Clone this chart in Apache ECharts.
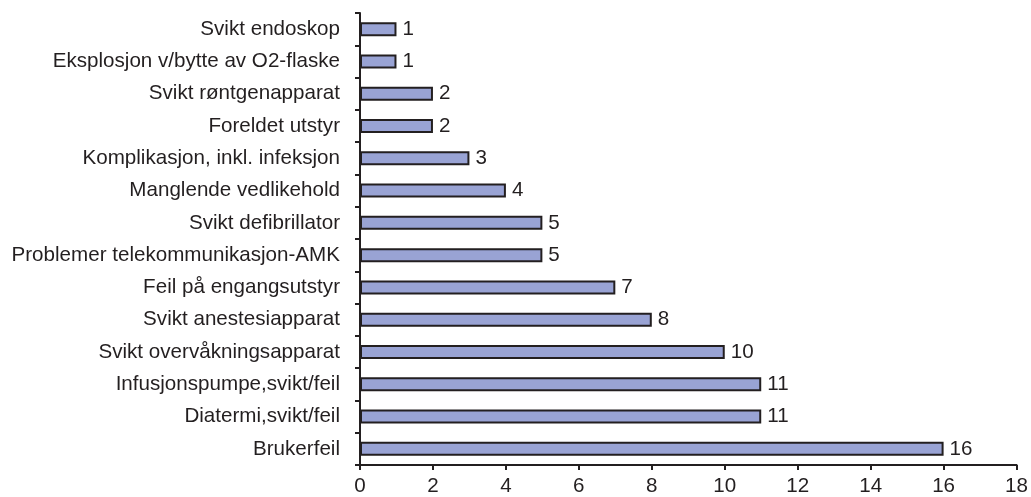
<!DOCTYPE html>
<html>
<head>
<meta charset="utf-8">
<script src="https://cdn.jsdelivr.net/npm/echarts@6/dist/echarts.min.js"></script>
<style>
  html, body { margin: 0; padding: 0; background: #fff; }
  #chart { width: 1031px; height: 497px; }
</style>
</head>
<body>
<div id="chart"></div>
<script>
// bottom to top, as echarts draws category axes
let categories = [
    'Brukerfeil',
    'Diatermi,svikt/feil',
    'Infusjonspumpe,svikt/feil',
    'Svikt overvåkningsapparat',
    'Svikt anestesiapparat',
    'Feil på engangsutstyr',
    'Problemer telekommunikasjon-AMK',
    'Svikt defibrillator',
    'Manglende vedlikehold',
    'Komplikasjon, inkl. infeksjon',
    'Foreldet utstyr',
    'Svikt røntgenapparat',
    'Eksplosjon v/bytte av O2-flaske',
    'Svikt endoskop'
];
let counts = [16, 11, 11, 10, 8, 7, 5, 5, 4, 3, 2, 2, 1, 1];

let textColor = '#231f20';
let fontFamily = '"Liberation Sans", Arial, Helvetica, sans-serif';
let fontSize = 20.6;

let chart = echarts.init(document.getElementById('chart'));

let options = {
    animation: false,
    grid: {
        top: 13,
        bottom: 31,
        left: 360,
        right: 14
    },
    xAxis: {
        type: 'value',
        min: 0,
        max: 18,
        interval: 2,
        splitLine: { show: false },
        axisLine: { show: true, lineStyle: { color: textColor, width: 2 } },
        axisTick: { show: true, length: 5, lineStyle: { color: textColor, width: 2 } },
        axisLabel: { color: textColor, fontSize: fontSize, fontFamily: fontFamily, margin: 11 }
    },
    yAxis: {
        type: 'category',
        data: categories,
        axisLine: { show: true, lineStyle: { color: textColor, width: 2 } },
        axisTick: { show: true, length: 5, lineStyle: { color: textColor, width: 2 } },
        axisLabel: { color: textColor, fontSize: fontSize, fontFamily: fontFamily, margin: 20 }
    },
    series: [{
        type: 'bar',
        data: counts,
        barWidth: 14,
        itemStyle: {
            color: '#99a3d4',
            borderColor: '#231f20',
            borderWidth: 2
        },
        label: {
            show: true,
            position: 'right',
            distance: 6,
            color: textColor,
            fontSize: fontSize,
            fontFamily: fontFamily
        }
    }]
};
chart.setOption(options);
</script>
</body>
</html>
